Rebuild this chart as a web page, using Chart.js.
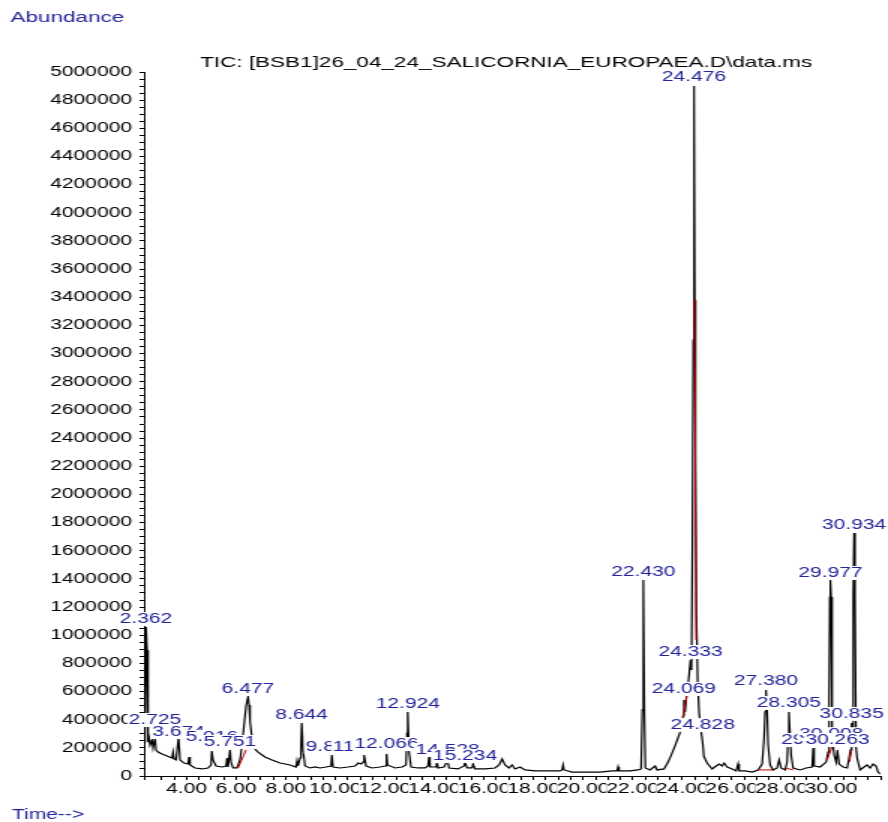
<!DOCTYPE html>
<html lang="en">
<head>
<meta charset="UTF-8" />
<title>TIC chromatogram</title>
<script src="https://cdn.jsdelivr.net/npm/chart.js"></script>
<style>
  html, body { margin: 0; padding: 0; background: #fff; overflow: hidden; }
  /* the original picture is stretched sideways, so draw narrow and stretch */
  .wrap { width: 592px; height: 822px; transform: scaleX(1.5); transform-origin: 0 0; }
</style>
</head>
<body>
<div class="wrap">
  <canvas id="tic" width="592" height="822"></canvas>
</div>
<script>
// retention time (min) and abundance
const times = [
  2.281, 2.322, 2.362, 2.402, 2.443, 2.483, 2.523, 2.604, 2.645, 2.725,
  2.766, 2.846, 3.008, 3.209, 3.411, 3.452, 3.492, 3.573, 3.674, 3.734,
  3.896, 4.057, 4.097, 4.138, 4.339, 4.622, 4.864, 4.985, 5.016, 5.066,
  5.187, 5.429, 5.590, 5.631, 5.671, 5.751, 5.792, 5.873, 6.034, 6.155,
  6.236, 6.317, 6.398, 6.477, 6.519, 6.559, 6.640, 6.720, 6.882, 7.164,
  7.447, 7.770, 8.173, 8.415, 8.455, 8.496, 8.577, 8.617, 8.644, 8.698,
  8.778, 8.980, 9.182, 9.384, 9.626, 9.828, 9.861, 9.909, 10.191, 10.514,
  10.796, 10.918, 11.039, 11.120, 11.160, 11.241, 11.482, 11.805, 12.026, 12.066,
  12.108, 12.410, 12.693, 12.854, 12.894, 12.924, 12.975, 13.056, 13.338, 13.621,
  13.742, 13.782, 13.823, 14.065, 14.106, 14.146, 14.388, 14.469, 14.528, 14.590,
  14.953, 15.195, 15.234, 15.316, 15.518, 15.558, 15.639, 16.042, 16.446, 16.607,
  16.729, 16.849, 17.011, 17.131, 17.253, 17.455, 17.656, 18.060, 18.585, 19.069,
  19.150, 19.190, 19.231, 19.553, 20.078, 20.683, 21.168, 21.370, 21.410, 21.450,
  21.894, 22.217, 22.339, 22.389, 22.430, 22.470, 22.510, 22.702, 22.904, 22.984,
  23.267, 23.428, 23.590, 23.751, 23.913, 24.034, 24.069, 24.115, 24.155, 24.236,
  24.333, 24.372, 24.410, 24.445, 24.476, 24.505, 24.535, 24.570, 24.620, 24.680,
  24.760, 24.828, 24.870, 25.003, 25.205, 25.366, 25.487, 25.609, 25.689, 25.810,
  26.012, 26.173, 26.254, 26.294, 26.537, 26.819, 27.061, 27.223, 27.303, 27.344,
  27.380, 27.425, 27.465, 27.546, 27.667, 27.828, 27.909, 27.990, 28.151, 28.232,
  28.272, 28.305, 28.353, 28.393, 28.474, 28.756, 28.998, 29.240, 29.284, 29.321,
  29.563, 29.805, 29.886, 29.926, 29.955, 29.977, 30.008, 30.047, 30.128, 30.209,
  30.263, 30.330, 30.491, 30.653, 30.733, 30.790, 30.835, 30.870, 30.900, 30.934,
  30.970, 31.015, 31.056, 31.177, 31.338, 31.459, 31.580, 31.701, 31.822, 31.902,
  31.983
];
const abundance = [
  241000, 291000, 1058000, 895000, 241000, 270000, 220000, 256000, 199000, 270000,
  185000, 170000, 156000, 142000, 128000, 170000, 121000, 114000, 277000, 114000,
  92000, 85000, 135000, 78000, 57000, 50000, 57000, 78000, 178000, 114000,
  71000, 64000, 71000, 128000, 64000, 185000, 99000, 57000, 57000, 114000,
  220000, 362000, 497000, 561000, 504000, 384000, 270000, 199000, 170000, 135000,
  114000, 92000, 78000, 64000, 107000, 71000, 128000, 220000, 376000, 185000,
  71000, 57000, 64000, 57000, 64000, 71000, 149000, 64000, 57000, 64000,
  71000, 92000, 85000, 99000, 149000, 71000, 57000, 64000, 71000, 163000,
  78000, 57000, 64000, 78000, 305000, 455000, 170000, 64000, 57000, 57000,
  71000, 135000, 64000, 64000, 99000, 57000, 64000, 92000, 113000, 57000,
  50000, 71000, 99000, 57000, 57000, 85000, 50000, 50000, 57000, 78000,
  121000, 78000, 57000, 78000, 50000, 64000, 43000, 36000, 36000, 36000,
  43000, 78000, 43000, 28000, 28000, 28000, 36000, 36000, 64000, 36000,
  36000, 43000, 50000, 469000, 1392000, 469000, 57000, 43000, 71000, 43000,
  50000, 99000, 163000, 234000, 312000, 426000, 540000, 455000, 540000, 646000,
  824000, 753000, 1676000, 3096000, 4900000, 3381000, 2244000, 1179000, 682000, 450000,
  320000, 230000, 140000, 92000, 50000, 71000, 85000, 71000, 92000, 64000,
  50000, 36000, 85000, 36000, 36000, 28000, 43000, 85000, 270000, 455000,
  611000, 455000, 220000, 78000, 43000, 57000, 114000, 57000, 43000, 99000,
  291000, 455000, 291000, 149000, 57000, 43000, 57000, 64000, 199000, 71000,
  64000, 99000, 170000, 540000, 1271000, 1392000, 1271000, 291000, 149000, 99000,
  185000, 85000, 64000, 57000, 128000, 185000, 376000, 256000, 1271000, 1726000,
  1271000, 199000, 128000, 43000, 64000, 78000, 57000, 85000, 71000, 28000,
  15000
];

// red integration baselines (null = gap)
const baseTimes = [6.075, 6.398, 6.40, 24.034, 24.196, 24.20, 24.496, 24.559, 24.56,
  27.061, 27.667, 27.67, 28.151, 28.474, 28.48, 29.845, 30.047, 30.05, 30.750, 30.830];
const baseValues = [57000, 185000, null, 420000, 590000, null, 3381000, 966000, null,
  43000, 43000, null, 57000, 43000, null, 114000, 206000, null, 100000, 180000];

// peak annotations
const peakLabels = ['2.362', '2.725', '3.674', '5.016', '5.751', '6.477', '8.644', '9.861',
  '11.160', '12.066', '12.924', '14.528', '15.234', '22.430', '24.069', '24.333', '24.476',
  '24.828', '27.380', '28.305', '29.284', '29.977', '30.008', '30.263', '30.835', '30.934'];
const peakTimes = [2.362, 2.725, 3.674, 5.016, 5.751, 6.477, 8.644, 9.861,
  11.160, 12.066, 12.924, 14.528, 15.234, 22.430, 24.069, 24.333, 24.476,
  24.828, 27.380, 28.305, 29.284, 29.977, 30.008, 30.263, 30.835, 30.934];
const peakHeights = [1058000, 341000, 256000, 220000, 185000, 561000, 376000, 149000,
  149000, 170000, 455000, 128000, 85000, 1392000, 561000, 824000, 4907000,
  305000, 618000, 462000, 199000, 1385000, 240000, 199000, 384000, 1726000];

const titleText = 'TIC: [BSB1]26_04_24_SALICORNIA_EUROPAEA.D\\data.ms';
const FAMILY = '"Liberation Sans", Arial, sans-serif';
const FONT = '14px ' + FAMILY;
const BLUE = '#24249a';

const textPlugin = {
  id: 'textPlugin',
  afterDatasetsDraw(chart) {
    const ctx = chart.ctx;
    const xs = chart.scales.x, ys = chart.scales.y;
    ctx.save();
    ctx.font = FONT;
    ctx.textAlign = 'center';
    ctx.textBaseline = 'middle';
    peakLabels.forEach((lab, i) => {
      const px = xs.getPixelForValue(peakTimes[i]);
      const py = ys.getPixelForValue(peakHeights[i]) - 8;
      const w = ctx.measureText(lab).width;
      ctx.fillStyle = '#fff';
      ctx.fillRect(px - w / 2 - 1, py - 7, w + 2, 14);
      ctx.fillStyle = BLUE;
      ctx.fillText(lab, px, py);
    });
    ctx.restore();
  },
  afterDraw(chart) {
    const ctx = chart.ctx;
    const a = chart.chartArea;
    ctx.save();
    ctx.textBaseline = 'middle';
    ctx.fillStyle = BLUE;
    ctx.textAlign = 'left';
    ctx.font = '15px ' + FAMILY;
    ctx.fillText('Abundance', 7, 18);
    ctx.font = FONT;
    ctx.fillText('Time-->', 8, 815);
    ctx.fillStyle = '#000';
    ctx.textAlign = 'center';
    ctx.font = '15px ' + FAMILY;
    ctx.fillText(titleText, (a.left + a.right) / 2 - 4, 63);
    ctx.restore();
  }
};

new Chart(document.getElementById('tic'), {
  type: 'line',
  data: {
    datasets: [
      {
        label: 'baseline',
        data: baseTimes.map((t, i) => ({ x: t, y: baseValues[i] })),
        borderColor: '#c00000',
        borderWidth: 1,
        pointRadius: 0,
        spanGaps: false,
        order: 0
      },
      {
        label: 'TIC',
        data: times.map((t, i) => ({ x: t, y: abundance[i] })),
        borderColor: '#000',
        borderWidth: 1.2,
        pointRadius: 0,
        tension: 0,
        order: 1
      }
    ]
  },
  options: {
    responsive: false,
    animation: false,
    layout: { padding: { top: 72, left: 0, right: 5, bottom: 0 } },
    plugins: { legend: { display: false }, tooltip: { enabled: false }, title: { display: false } },
    scales: {
      x: {
        type: 'linear',
        min: 2.28,
        max: 32.0,
        afterFit(scale) { scale.height = 46; },
        border: { display: true, color: '#000', width: 1 },
        grid: { drawOnChartArea: false, tickLength: 4, tickColor: '#000' },
        ticks: {
          stepSize: 0.5,
          autoSkip: false,
          maxRotation: 0,
          padding: 1,
          color: '#000',
          font: { family: FAMILY, size: 14 },
          showLabelBackdrop: true,
          backdropColor: '#fff',
          backdropPadding: 0,
          callback: (v) => {
            const r = Math.round(v);
            return (Math.abs(v - r) < 1e-6 && r % 2 === 0 && r >= 4 && r <= 30) ? r.toFixed(2) : '';
          }
        }
      },
      y: {
        min: 0,
        max: 5000000,
        afterFit(scale) { scale.width = 96; },
        border: { display: true, color: '#000', width: 1 },
        grid: { drawOnChartArea: false, tickLength: 3, tickColor: '#000' },
        ticks: {
          stepSize: 50000,
          maxTicksLimit: 200,
          autoSkip: false,
          padding: 5,
          color: '#000',
          font: { family: FAMILY, size: 14 },
          callback: (v) => (v % 200000 === 0 ? String(v) : '')
        }
      }
    }
  },
  plugins: [textPlugin]
});
</script>
</body>
</html>
